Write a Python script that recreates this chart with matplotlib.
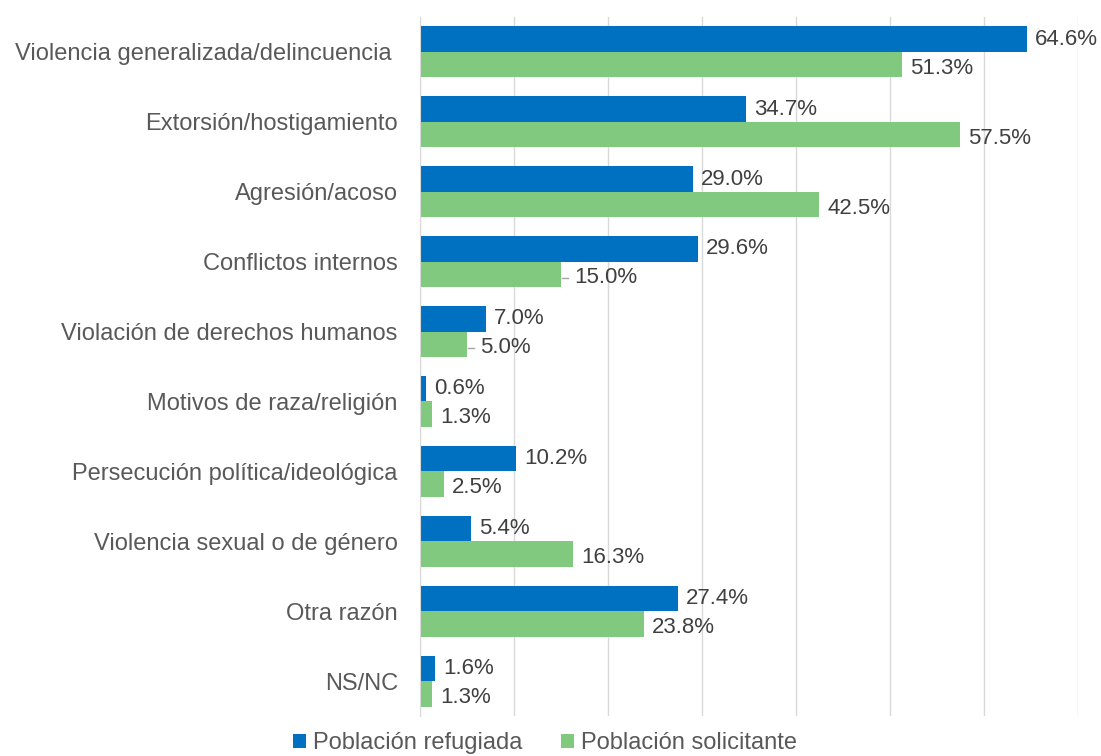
import matplotlib.pyplot as plt
import numpy as np

categorias = ["Violencia generalizada/delincuencia ", "Extorsión/hostigamiento", "Agresión/acoso",
              "Conflictos internos", "Violación de derechos humanos", "Motivos de raza/religión",
              "Persecución política/ideológica", "Violencia sexual o de género", "Otra razón", "NS/NC"]
refugiada = [64.6, 34.7, 29.0, 29.6, 7.0, 0.6, 10.2, 5.4, 27.4, 1.6]
solicitante = [51.3, 57.5, 42.5, 15.0, 5.0, 1.3, 2.5, 16.3, 23.8, 1.3]
series = ["Población refugiada", "Población solicitante"]
# etiquetas de "solicitante" con línea guía (como en Excel)
con_guia = [3, 4]

plt.rcParams['font.family'] = ['Liberation Sans', 'DejaVu Sans']

fig = plt.figure(figsize=(11.01, 7.56), dpi=100)
ax = fig.add_axes([0.3815, 0.0529, 0.5975, 0.9246])

y = np.arange(len(categorias))
h = 0.365
b1 = ax.barh(y - h / 2, refugiada, height=h, color='#0070C0', label=series[0], zorder=2)
b2 = ax.barh(y + h / 2, solicitante, height=h, color='#81C97E', label=series[1], zorder=2)

for i, (rect, v) in enumerate(zip(b1, refugiada)):
    ax.text(v + 0.85, rect.get_y() + rect.get_height() / 2, "%.1f%%" % v,
            va='center', ha='left', fontsize=16, color='#404040')
for i, (rect, v) in enumerate(zip(b2, solicitante)):
    yc = rect.get_y() + rect.get_height() / 2 + 0.05
    dx = 0.85
    if i in con_guia:
        dx = 1.4
        ax.plot([v + 0.1, v + 0.75], [yc, yc], color='#A6A6A6', lw=1, zorder=3)
    ax.text(v + dx, yc, "%.1f%%" % v, va='center', ha='left', fontsize=16, color='#404040')

ax.set_xlim(0, 70)
ax.set_ylim(len(categorias) - 0.5, -0.5)
ax.set_xticks(range(0, 71, 10))
ax.set_xticklabels([])
ax.tick_params(axis='x', length=0)
ax.set_yticks(y)
ax.set_yticklabels(categorias, fontsize=17, color='#595959')
ax.tick_params(axis='y', length=0, pad=16)
ax.grid(axis='x', color='#D9D9D9', linewidth=1, zorder=0)
for s in ['top', 'right', 'bottom']:
    ax.spines[s].set_visible(False)
ax.spines['left'].set_color('#D9D9D9')

fig.legend(handles=[b1, b2], loc='center', bbox_to_anchor=(0.495, 0.017), ncol=2,
           frameon=False, fontsize=17, handlelength=0.55, handleheight=0.55,
           handletextpad=0.3, columnspacing=1.6, labelcolor='#595959',
           borderpad=0.1)

plt.savefig("out.png")
